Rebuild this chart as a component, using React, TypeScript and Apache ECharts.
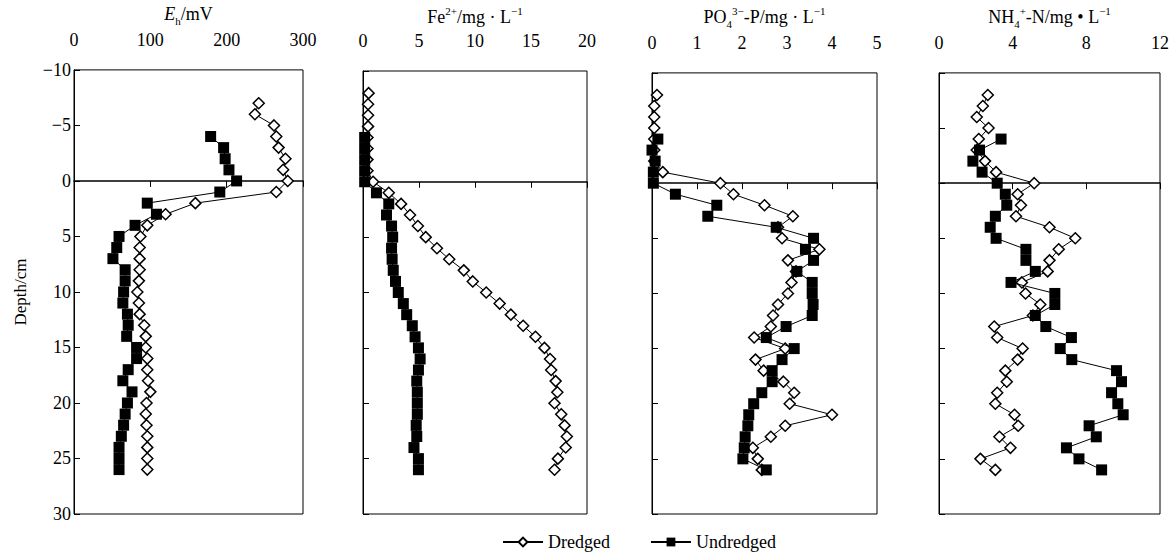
import React, { useEffect, useRef } from 'react';
import * as echarts from 'echarts';

// depth ranges (cm)
const depthsDredged = Array.from({ length: 35 }, (_, i) => i - 8); // -8..26
const depthsUndredged = Array.from({ length: 31 }, (_, i) => i - 4); // -4..26
const depthsEhDredged = Array.from({ length: 34 }, (_, i) => i - 7); // -7..26

const ehDredged = [242, 237, 262, 265, 268, 277, 274, 280, 265, 159, 120, 96, 87, 86, 86, 86, 85, 83, 85, 86, 92, 94, 94, 96, 96, 97, 100, 95, 94, 95, 96, 96, 96, 96];
const ehUndredged = [179, 196, 198, 203, 213, 191, 96, 108, 80, 59, 56, 51, 67, 67, 65, 64, 70, 71, 69, 82, 82, 71, 64, 76, 70, 67, 65, 62, 59, 59, 59];

const feDredged = [0.5, 0.45, 0.45, 0.45, 0.4, 0.4, 0.4, 0.4, 0.9, 2.3, 3.4, 4.2, 4.9, 5.6, 6.6, 7.7, 9.0, 9.8, 11.0, 12.2, 13.2, 14.3, 15.4, 16.2, 16.7, 16.8, 17.2, 17.35, 17.1, 17.7, 18.0, 18.2, 18.1, 17.4, 17.1];
const feUndredged = [0.15, 0.15, 0.15, 0.15, 0.15, 1.2, 2.3, 2.1, 2.55, 2.65, 2.55, 2.6, 2.7, 2.9, 3.15, 3.6, 3.9, 4.4, 4.65, 4.95, 5.1, 4.95, 4.8, 4.85, 4.85, 4.85, 4.75, 4.8, 4.55, 4.95, 4.95];

const poDredged = [0.11, 0.05, 0.05, 0.05, 0.05, 0.05, 0.05, 0.24, 1.52, 1.81, 2.5, 3.13, 2.8, 2.89, 3.72, 3.02, 3.2, 3.1, 3.02, 2.8, 2.69, 2.64, 2.27, 2.96, 2.3, 2.48, 2.92, 3.16, 3.06, 4.0, 2.96, 2.64, 2.24, 2.35, 2.44];
const poUndredged = [0.13, 0.0, 0.07, 0.03, 0.03, 0.52, 1.44, 1.24, 2.76, 3.59, 3.41, 3.59, 3.22, 3.56, 3.56, 3.58, 3.56, 2.98, 2.54, 3.16, 2.89, 2.67, 2.67, 2.44, 2.26, 2.15, 2.13, 2.07, 2.05, 2.02, 2.54];

const nhDredged = [2.65, 2.38, 2.05, 2.69, 2.16, 2.05, 2.5, 3.1, 5.17, 4.27, 4.45, 4.18, 6.0, 7.4, 6.5, 6.0, 5.9, 4.5, 4.7, 5.5, 5.1, 3.0, 3.16, 4.54, 4.27, 3.6, 3.68, 3.16, 3.06, 4.1, 4.3, 3.28, 3.88, 2.25, 3.06];
const nhUndredged = [3.37, 2.2, 1.84, 2.34, 3.16, 3.6, 3.68, 3.06, 2.78, 3.1, 4.72, 4.72, 5.23, 3.91, 6.29, 6.29, 5.23, 5.8, 7.19, 6.58, 7.21, 9.64, 9.91, 9.37, 9.71, 10.0, 8.15, 8.54, 6.92, 7.6, 8.83];

const panelTitles = [
  '{i|E}{sub|h}{n|/mV}',
  '{n|Fe}{sup|2+}{n|/mg · L}{sup|−1}',
  '{n|PO}{sub|4}{sup|3−}{n|-P/mg · L}{sup|−1}',
  '{n|NH}{sub|4}{sup|+}{n|-N/mg • L}{sup|−1}',
];
const xMax = [300, 20, 5, 12];
const xInterval = [100, 5, 1, 4];
const depthMin = -10;
const depthMax = 30;
const depthInterval = 5;

const seriesNames = ['Dredged', 'Undredged'];

const FONT = 'Liberation Serif';

export default function App() {
  const ref = useRef<HTMLDivElement>(null);
  useEffect(() => {
    document.body.style.margin = '0';
    const chart = echarts.init(ref.current!, undefined, { renderer: 'svg' });
    const lefts = [74, 363, 652, 939];
    const widths = [229, 224, 225, 221];
    const grids = lefts.map((l, k) => ({
      left: l, width: widths[k], top: 69, height: 445,
      show: true, borderColor: '#000', borderWidth: 1, backgroundColor: 'transparent',
    }));
    const rich = {
      n: { fontSize: 18, fontFamily: FONT, color: '#000', lineHeight: 24 },
      i: { fontSize: 18, fontFamily: FONT, fontStyle: 'italic', color: '#000', lineHeight: 24 },
      sub: { fontSize: 11, fontFamily: FONT, color: '#000', verticalAlign: 'bottom', lineHeight: 24 },
      sup: { fontSize: 11, fontFamily: FONT, color: '#000', verticalAlign: 'top', lineHeight: 24 },
    };
    const xAxes: any[] = [];
    const yAxes: any[] = [];
    for (let k = 0; k < 4; k++) {
      xAxes.push({
        type: 'value', gridIndex: k, position: 'top', min: 0, max: xMax[k], interval: xInterval[k],
        axisLine: { show: false }, axisTick: { show: false }, splitLine: { show: false },
        axisLabel: { show: true, margin: 21, fontSize: 18, fontFamily: FONT, color: '#000' },
        name: panelTitles[k], nameLocation: 'middle', nameGap: 42,
        nameTextStyle: { rich },
      });
      xAxes.push({
        type: 'value', gridIndex: k, position: 'bottom', min: 0, max: xMax[k], interval: xInterval[k],
        axisLine: { show: true, onZero: true, onZeroAxisIndex: k, lineStyle: { color: '#000', width: 1.5 } },
        axisTick: { show: true, inside: false, length: 6, lineStyle: { color: '#000', width: 1 } },
        axisLabel: { show: false }, splitLine: { show: false },
      });
      yAxes.push({
        type: 'value', gridIndex: k, inverse: true, min: depthMin, max: depthMax, interval: depthInterval,
        axisLine: { show: true, onZero: false, lineStyle: { color: '#000', width: 1 } },
        axisTick: { show: true, inside: true, length: 6, lineStyle: { color: '#000' } },
        axisLabel: {
          show: k === 0, fontSize: 18, fontFamily: FONT, color: '#000', margin: 3,
          formatter: (v: number) => String(v).replace('-', '−'),
        },
        splitLine: { show: false },
        name: k === 0 ? 'Depth/cm' : '', nameLocation: 'middle', nameGap: 45, nameRotate: 90,
        nameTextStyle: { fontSize: 17, fontFamily: FONT, color: '#000' },
      });
    }
    const pairs = (vals: number[], depths: number[]) => vals.map((v, i) => [v, depths[i]]);
    const dataSets = [
      [pairs(ehDredged, depthsEhDredged), pairs(ehUndredged, depthsUndredged)],
      [pairs(feDredged, depthsDredged), pairs(feUndredged, depthsUndredged)],
      [pairs(poDredged, depthsDredged), pairs(poUndredged, depthsUndredged)],
      [pairs(nhDredged, depthsDredged), pairs(nhUndredged, depthsUndredged)],
    ];
    const series: any[] = [];
    for (let k = 0; k < 4; k++) {
      series.push({
        name: seriesNames[0], type: 'line', xAxisIndex: 2 * k, yAxisIndex: k,
        data: dataSets[k][0], symbol: 'diamond', symbolSize: [11, 11], clip: false,
        lineStyle: { color: '#000', width: 1 },
        itemStyle: { color: '#fff', borderColor: '#000', borderWidth: 1.5 },
        z: 2,
      });
      series.push({
        name: seriesNames[1], type: 'line', xAxisIndex: 2 * k, yAxisIndex: k,
        data: dataSets[k][1], symbol: 'rect', symbolSize: 11, clip: false,
        lineStyle: { color: '#000', width: 1 },
        itemStyle: { color: '#000', borderColor: '#000', borderWidth: 0 },
        z: 3,
      });
    }
    chart.setOption({
      animation: false,
      backgroundColor: '#fff',
      grid: grids,
      xAxis: xAxes,
      yAxis: yAxes,
      legend: {
        data: seriesNames, left: 497, top: 528, itemWidth: 40, itemHeight: 11, itemGap: 40,
        textStyle: { fontSize: 18, fontFamily: FONT, color: '#000' },
      },
      series,
    });
    return () => chart.dispose();
  }, []);
  return <div ref={ref} style={{ width: 1173, height: 552 }} />;
}
